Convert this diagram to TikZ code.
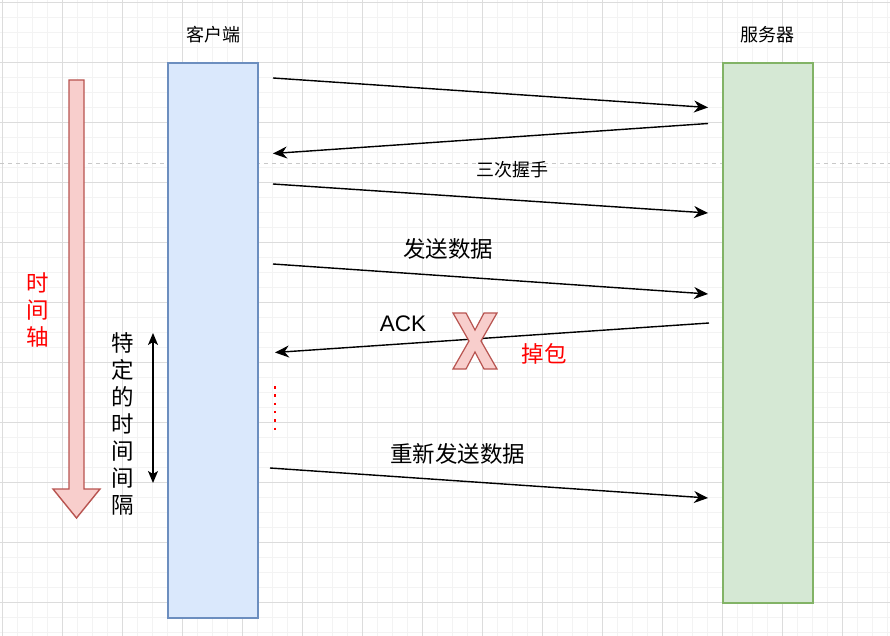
\documentclass[tikz,border=0pt]{standalone}
\usepackage{fontspec}
\setmainfont{Liberation Sans}
\newfontfamily\cjk{Noto Sans CJK SC}
\usetikzlibrary{arrows.meta}
\definecolor{gridminor}{HTML}{F3F3F3}
\definecolor{gridmajor}{HTML}{DCDCDC}
\definecolor{pagebreak}{HTML}{C8C8C8}
\definecolor{cfill}{HTML}{DAE8FC}
\definecolor{cdraw}{HTML}{6C8EBF}
\definecolor{sfill}{HTML}{D5E8D4}
\definecolor{sdraw}{HTML}{82B366}
\definecolor{rfill}{HTML}{F8CECC}
\definecolor{rdraw}{HTML}{B85450}
\definecolor{redtext}{HTML}{FF0000}
\tikzset{
  minorline/.style={draw=gridminor, line width=0.8pt},
  majorline/.style={draw=gridmajor, line width=0.8pt},
  msg/.style={line width=1.4pt, -{Stealth[length=14pt,width=12pt,inset=4.5pt]}},
  smalllabel/.style={inner sep=0pt, font=\cjk\fontsize{18}{21}\selectfont},
  biglabel/.style={inner sep=0pt, font=\cjk\fontsize{22.5}{27}\selectfont},
  lifeline/.style={line width=1.6pt, inner sep=0pt, outer sep=0pt, anchor=north west},
}
\begin{document}
\begin{tikzpicture}[x=1pt,y=-1pt]
\useasboundingbox (0,0) rectangle (890,636);
\fill[white] (0,0) rectangle (890,636);
% grid
\foreach \i in {0,...,59} {
  \draw[minorline] ({2+15*\i},0) -- ({2+15*\i},636);
}
\foreach \i in {0,...,42} {
  \draw[minorline] (0,{2+15*\i}) -- (890,{2+15*\i});
}
\foreach \i in {0,...,14} {
  \draw[majorline] ({2+60*\i},0) -- ({2+60*\i},636);
}
\foreach \i in {0,...,10} {
  \draw[majorline] (0,{2+60*\i}) -- (890,{2+60*\i});
}
% page break line
\draw[pagebreak, line width=1pt, dash pattern=on 4pt off 4pt] (0,163.5) -- (890,163.5);

% lifelines
\node[lifeline, draw=cdraw, fill=cfill, minimum width=90pt, minimum height=555pt] (client) at (168,63) {};
\node[lifeline, draw=sdraw, fill=sfill, minimum width=90pt, minimum height=540pt] (server) at (723,63) {};

\node[smalllabel] (clientlabel) at (213,35) {客户端};
\node[smalllabel] (serverlabel) at (767.5,35) {服务器};

% time axis block arrow
\draw[draw=rdraw, fill=rfill, line width=1.4pt, line join=miter]
  (69,80) -- (84,80) -- (84,489) -- (100,489) -- (76.5,518) -- (53,489) -- (69,489) -- cycle;
\node[biglabel, text=redtext, align=center] (timelabel) at (37.5,310) {时\\间\\轴};

% interval
\node[biglabel, align=center] (intervallabel) at (122.5,424) {特\\定\\的\\时\\间\\间\\隔};
\coordinate (itop) at (153,333);
\coordinate (ibot) at (153,483);
\draw[line width=1.4pt, {Stealth[length=12pt,width=10pt,inset=3pt]}-{Stealth[length=12pt,width=10pt,inset=3pt]}] (itop) -- (ibot);

% messages
\coordinate (m1a) at (273,78);   \coordinate (m1b) at (708,107.5);
\coordinate (m2a) at (708,123.5);\coordinate (m2b) at (273,153.5);
\coordinate (m3a) at (273,184);  \coordinate (m3b) at (708,213);
\coordinate (m4a) at (273,264);  \coordinate (m4b) at (708,294);
\coordinate (m5a) at (709,323);  \coordinate (m5b) at (275,352.5);
\coordinate (m6a) at (270,468);  \coordinate (m6b) at (708,498);
\draw[msg] (m1a) -- (m1b);
\draw[msg] (m2a) -- (m2b);
\draw[msg] (m3a) -- (m3b);
\draw[msg] (m4a) -- (m4b);
\node[smalllabel] (handshake) at (512.5,169.5) {三次握手};
\node[biglabel] (sendlabel) at (448,249) {发送数据};

% lost ACK
\node[inner sep=0pt, font=\fontsize{22.5}{27}\selectfont] (acklabel) at (403,324) {ACK};
\draw[msg] (m5a) -- (m5b);
\draw[draw=rdraw, fill=rfill, line width=1.2pt, line join=miter]
  (453,313) -- (466,313) -- (475,330) -- (484,313) -- (497,313) -- (481,341)
  -- (497,369) -- (484,369) -- (475,352) -- (466,369) -- (453,369) -- (469,341) -- cycle;
\node[biglabel, text=redtext] (droplabel) at (544,354) {掉包};

% dots
\coordinate (d1) at (275,386);
\coordinate (d2) at (275,432);
\draw[redtext, line width=2.5pt, dash pattern=on 2.5pt off 5.8pt] (d1) -- (d2);

% resend
\draw[msg] (m6a) -- (m6b);
\node[biglabel] (resendlabel) at (457.5,454) {重新发送数据};
\end{tikzpicture}
\end{document}
